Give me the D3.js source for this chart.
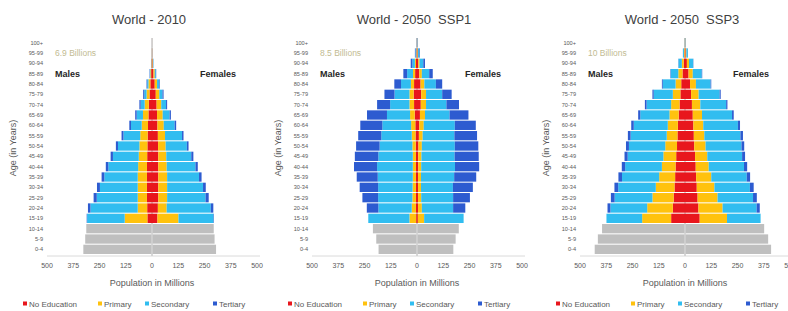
<!DOCTYPE html>
<html>
<head>
<meta charset="utf-8">
<script src="https://cdn.jsdelivr.net/npm/d3@7"></script>
<style>
  body { margin: 0; background: #fff; }
  svg { font-family: "Liberation Sans", Arial, sans-serif; }
</style>
</head>
<body>
<svg id="chart" width="788" height="311"></svg>
<script>
// age groups, top to bottom
const ages = ["100+", "95-99", "90-94", "85-89", "80-84", "75-79", "70-74", "65-69", "60-64",
  "55-59", "50-54", "45-49", "40-44", "35-39", "30-34", "25-29", "20-24", "15-19",
  "10-14", "5-9", "0-4"];
// adult groups (15+), listed from 15-19 upward
const adultAges = ["15-19", "20-24", "25-29", "30-34", "35-39", "40-44", "45-49", "50-54", "55-59",
  "60-64", "65-69", "70-74", "75-79", "80-84", "85-89", "90-94", "95-99", "100+"];
const childAges = ["0-4", "5-9", "10-14"];
const xTicks = [-500, -375, -250, -125, 0, 125, 250, 375, 500];
const categories = ["No Education", "Primary", "Secondary", "Tertiary"];

// ---- World 2010 (millions) ----
const w2010_children_m = [327, 318, 313];
const w2010_children_f = [305, 298, 294];
const w2010_noedu_m = [22, 23, 24, 24, 24, 24, 23, 22, 21, 19, 17, 15, 12, 8, 4, 1.2, 0.3, 0.05];
const w2010_primary_m = [108, 45, 44, 44, 44, 42, 40, 38, 35, 30, 26, 20, 14, 9, 4, 1.2, 0.3, 0.03];
const w2010_secondary_m = [179, 225, 195, 180, 159, 142, 123, 102, 80, 51, 30, 19, 11, 6, 2.5, 0.7, 0.15, 0.02];
const w2010_tertiary_m = [2, 12, 15, 14, 13, 12, 11, 10, 9, 8, 7, 6, 5, 3, 1.5, 0.4, 0.1, 0.02];
const w2010_noedu_f = [26, 28, 30, 30, 30, 30, 30, 29, 28, 26, 24, 22, 18, 13, 7, 2.5, 0.7, 0.1];
const w2010_primary_f = [100, 42, 42, 42, 42, 40, 38, 36, 34, 30, 27, 22, 17, 11, 6, 2, 0.5, 0.08];
const w2010_secondary_f = [167, 210, 183, 171, 152, 137, 119, 101, 81, 52, 33, 23, 15, 10, 5, 2, 0.5, 0.1];
const w2010_tertiary_f = [2, 12, 15, 13, 12, 11, 10, 8, 7, 7, 6, 5, 5, 3, 2, 0.5, 0.1, 0.02];

// ---- World 2050 SSP1 ----
const ssp1_children_m = [183, 194, 210];
const ssp1_children_f = [173, 184, 199];
const ssp1_noedu_m = [4, 5, 5, 5, 5, 5, 5, 6, 7, 8, 11, 14, 16, 14, 9, 5, 2, 0.4];
const ssp1_primary_m = [32, 20, 17, 16, 15, 15, 15, 16, 18, 20, 22, 22, 20, 15, 10, 5, 1.6, 0.4];
const ssp1_secondary_m = [196, 159, 163, 164, 167, 170, 164, 156, 145, 137, 110, 92, 71, 47, 28, 12, 3.9, 0.7];
const ssp1_tertiary_m = [0, 55, 75, 88, 100, 110, 112, 112, 110, 105, 95, 62, 48, 32, 18, 8, 2.5, 0.5];
const ssp1_noedu_f = [4, 5, 5, 5, 5, 6, 6, 7, 9, 11, 14, 18, 20, 17, 11, 6, 2.5, 0.6];
const ssp1_primary_f = [30, 18, 15, 14, 14, 14, 15, 16, 18, 21, 24, 25, 23, 18, 12, 6, 2.2, 0.5];
const ssp1_secondary_f = [188, 149, 152, 152, 158, 161, 158, 157, 151, 148, 117, 97, 77, 55, 35, 18, 6.5, 1.3];
const ssp1_tertiary_f = [0, 58, 80, 95, 105, 115, 115, 112, 108, 100, 90, 60, 45, 30, 17, 8, 2.8, 0.6];

// ---- World 2050 SSP3 ----
const ssp3_children_m = [430, 415, 395];
const ssp3_children_f = [410, 396, 377];
const ssp3_noedu_m = [66, 58, 54, 50, 47, 45, 42, 38, 36, 34, 30, 26, 22, 18, 12, 6, 2, 0.4];
const ssp3_primary_m = [138, 122, 101, 89, 76, 65, 61, 56, 51, 48, 44, 40, 36, 27, 20, 9, 3, 0.6];
const ssp3_secondary_m = [170, 175, 180, 179, 177, 175, 170, 173, 172, 162, 139, 117, 91, 61, 36, 16, 4.7, 0.9];
const ssp3_tertiary_m = [0, 14, 18, 18, 17, 16, 15, 14, 13, 12, 10, 8, 6, 4, 2, 1, 0.3, 0.1];
const ssp3_noedu_f = [70, 64, 60, 56, 53, 51, 48, 44, 42, 40, 37, 33, 29, 24, 17, 9, 3, 0.7];
const ssp3_primary_f = [130, 115, 95, 84, 72, 62, 58, 54, 50, 47, 44, 40, 36, 28, 20, 10, 3.5, 0.8];
const ssp3_secondary_f = [160, 162, 169, 169, 169, 168, 166, 171, 172, 165, 143, 123, 100, 70, 43, 20, 7.2, 1.4];
const ssp3_tertiary_f = [0, 15, 18, 18, 16, 15, 14, 13, 12, 10, 8, 6, 5, 3, 2, 1, 0.3, 0.1];

const colors = {
  "No Education": "#e8161d",
  "Primary": "#ffc20e",
  "Secondary": "#31bdf0",
  "Tertiary": "#2d5bd0",
  child: "#bfbfbf"
};

const panels = [
  { title: "World - 2010", total: "6.9 Billions", cx: 152,
    childM: w2010_children_m, childF: w2010_children_f,
    male: [w2010_noedu_m, w2010_primary_m, w2010_secondary_m, w2010_tertiary_m],
    female: [w2010_noedu_f, w2010_primary_f, w2010_secondary_f, w2010_tertiary_f] },
  { title: "World - 2050  SSP1", total: "8.5 Billions", cx: 417,
    childM: ssp1_children_m, childF: ssp1_children_f,
    male: [ssp1_noedu_m, ssp1_primary_m, ssp1_secondary_m, ssp1_tertiary_m],
    female: [ssp1_noedu_f, ssp1_primary_f, ssp1_secondary_f, ssp1_tertiary_f] },
  { title: "World - 2050  SSP3", total: "10 Billions", cx: 685,
    childM: ssp3_children_m, childF: ssp3_children_f,
    male: [ssp3_noedu_m, ssp3_primary_m, ssp3_secondary_m, ssp3_tertiary_m],
    female: [ssp3_noedu_f, ssp3_primary_f, ssp3_secondary_f, ssp3_tertiary_f] }
];

const svg = d3.select("#chart");
const y = d3.scaleBand().domain(ages).range([38, 254]).paddingInner(0.1);
const stack = d3.stack().keys(categories);

function rows(series) {
  return adultAges.map((a, i) => {
    const r = { age: a };
    categories.forEach((c, k) => r[c] = series[k][i]);
    return r;
  });
}

panels.forEach(p => {
  const g = svg.append("g");
  const cx = p.cx;
  const x = d3.scaleLinear().domain([-500, 500]).range([cx - 105, cx + 105]);

  // title
  g.append("text").attr("x", cx - 3).attr("y", 24)
    .attr("text-anchor", "middle").attr("font-size", 13).attr("fill", "#404040")
    .style("white-space", "pre").text(p.title);

  // center line
  g.append("line").attr("x1", x(0)).attr("x2", x(0)).attr("y1", 38).attr("y2", 256)
    .attr("stroke", "#9a9a9a").attr("stroke-width", 0.8);

  // children
  childAges.forEach((a, i) => {
    g.append("rect").attr("x", x(-p.childM[i])).attr("y", y(a))
      .attr("width", x(0) - x(-p.childM[i])).attr("height", y.bandwidth()).attr("fill", colors.child);
    g.append("rect").attr("x", x(0)).attr("y", y(a))
      .attr("width", x(p.childF[i]) - x(0)).attr("height", y.bandwidth()).attr("fill", colors.child);
  });
  g.append("line").attr("x1", x(0)).attr("x2", x(0)).attr("y1", y("10-14")).attr("y2", 254)
    .attr("stroke", "#e4e4e4").attr("stroke-width", 0.8);

  // adults
  const ms = stack(rows(p.male));
  const fs = stack(rows(p.female));
  ms.forEach(s => {
    g.selectAll(null).data(s).join("rect")
      .attr("x", d => x(-d[1])).attr("y", d => y(d.data.age))
      .attr("width", d => x(-d[0]) - x(-d[1])).attr("height", y.bandwidth())
      .attr("fill", colors[s.key]);
  });
  fs.forEach(s => {
    g.selectAll(null).data(s).join("rect")
      .attr("x", d => x(d[0])).attr("y", d => y(d.data.age))
      .attr("width", d => x(d[1]) - x(d[0])).attr("height", y.bandwidth())
      .attr("fill", colors[s.key]);
  });

  // x axis
  g.append("line").attr("x1", x(-500)).attr("x2", x(500) + 3).attr("y1", 256).attr("y2", 256)
    .attr("stroke", "#d0d0d0").attr("stroke-width", 0.8);
  g.selectAll(null).data(xTicks).join("text")
    .attr("x", d => x(d)).attr("y", 268).attr("text-anchor", "middle")
    .attr("font-size", 7).attr("fill", "#595959").text(d => Math.abs(d));

  // y labels
  g.selectAll(null).data(ages).join("text")
    .attr("x", cx - 109).attr("y", d => y(d) + y.bandwidth() / 2 + 2)
    .attr("text-anchor", "end").attr("font-size", 5.6).attr("fill", "#595959").text(d => d);

  g.append("text").attr("transform", `translate(${cx - 136},148) rotate(-90)`)
    .attr("text-anchor", "middle").attr("font-size", 9).attr("fill", "#595959").text("Age (in Years)");

  g.append("text").attr("x", cx).attr("y", 286).attr("text-anchor", "middle")
    .attr("font-size", 9).attr("fill", "#595959").text("Population in Millions");

  g.append("text").attr("x", cx - 97).attr("y", 56).attr("font-size", 8.5)
    .attr("fill", "#c2bb92").text(p.total);
  g.append("text").attr("x", cx - 97).attr("y", 77).attr("font-size", 9).attr("font-weight", "bold")
    .attr("fill", "#262626").text("Males");
  g.append("text").attr("x", cx + 48).attr("y", 77).attr("font-size", 9).attr("font-weight", "bold")
    .attr("fill", "#262626").text("Females");

  // legend
  const legX = [-127, -52, -5, 63];
  categories.forEach((c, i) => {
    g.append("rect").attr("x", cx + legX[i] - 2).attr("y", 301.5).attr("width", 4).attr("height", 4)
      .attr("fill", colors[c]);
    g.append("text").attr("x", cx + legX[i] + 4).attr("y", 306.5).attr("font-size", 8)
      .attr("fill", "#595959").text(c);
  });
});
</script>
</body>
</html>
